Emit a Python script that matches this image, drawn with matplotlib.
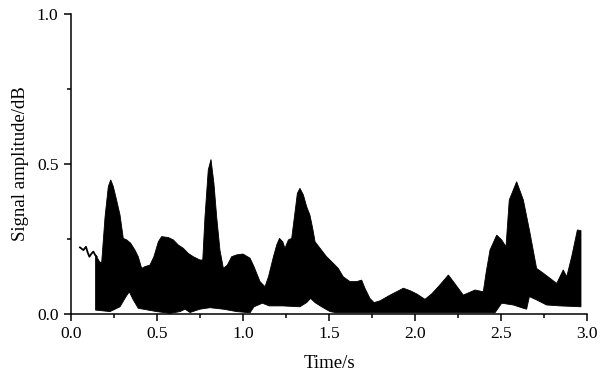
import numpy as np
import matplotlib
matplotlib.use('Agg')
import matplotlib.pyplot as plt

# --- 数据 ---
# 起始段细线
t_line = [0.052, 0.072, 0.087, 0.097, 0.107, 0.12, 0.13, 0.14, 0.149]
y_line = [0.222, 0.213, 0.224, 0.205, 0.191, 0.202, 0.208, 0.197, 0.191]

# 上包络
t_upper = [0.143, 0.165, 0.178, 0.198, 0.217, 0.231, 0.246, 0.265, 0.285, 0.304,
           0.324, 0.347, 0.372, 0.391, 0.411, 0.43, 0.459, 0.482, 0.508, 0.527,
           0.566, 0.595, 0.624, 0.653, 0.682, 0.711, 0.75, 0.766, 0.779, 0.798,
           0.814, 0.831, 0.847, 0.866, 0.886, 0.909, 0.934, 0.963, 1.00, 1.041,
           1.064, 1.099, 1.128, 1.148, 1.177, 1.196, 1.212, 1.231, 1.244, 1.264,
           1.283, 1.299, 1.316, 1.331, 1.351, 1.37, 1.389, 1.405, 1.419, 1.448,
           1.486, 1.525, 1.554, 1.583, 1.622, 1.661, 1.69, 1.709, 1.738, 1.762,
           1.797, 1.855, 1.913, 1.932, 1.971, 2.01, 2.058, 2.097, 2.145, 2.194,
           2.223, 2.281, 2.349, 2.397, 2.413, 2.436, 2.475, 2.504, 2.529, 2.548,
           2.591, 2.63, 2.669, 2.707, 2.746, 2.785, 2.824, 2.862, 2.882, 2.911,
           2.944, 2.965]
y_upper = [0.197, 0.175, 0.169, 0.324, 0.425, 0.447, 0.425, 0.380, 0.330, 0.252,
           0.247, 0.236, 0.213, 0.191, 0.152, 0.158, 0.163, 0.191, 0.241, 0.258,
           0.255, 0.247, 0.230, 0.219, 0.202, 0.191, 0.180, 0.180, 0.324, 0.480,
           0.515, 0.436, 0.324, 0.213, 0.152, 0.163, 0.191, 0.197, 0.200, 0.186,
           0.158, 0.108, 0.091, 0.124, 0.191, 0.230, 0.252, 0.241, 0.219, 0.247,
           0.252, 0.324, 0.402, 0.419, 0.397, 0.358, 0.330, 0.286, 0.241, 0.219,
           0.191, 0.169, 0.152, 0.124, 0.108, 0.108, 0.113, 0.086, 0.052, 0.038,
           0.044, 0.063, 0.080, 0.086, 0.078, 0.067, 0.049, 0.067, 0.097, 0.130,
           0.108, 0.063, 0.080, 0.074, 0.136, 0.213, 0.263, 0.247, 0.224, 0.380,
           0.441, 0.380, 0.269, 0.152, 0.136, 0.119, 0.102, 0.147, 0.124, 0.191,
           0.280, 0.278]

# 下包络
t_lower = [0.143, 0.227, 0.285, 0.32, 0.339, 0.362, 0.391, 0.498, 0.576, 0.634,
           0.663, 0.692, 0.75, 0.808, 0.886, 0.963, 1.041, 1.064, 1.113, 1.152,
           1.23, 1.331, 1.37, 1.393, 1.419, 1.457, 1.506, 1.545, 1.758, 2.2,
           2.465, 2.504, 2.572, 2.63, 2.649, 2.665, 2.707, 2.765, 2.843, 2.965]
y_lower = [0.013, 0.008, 0.024, 0.058, 0.074, 0.047, 0.019, 0.008, 0.002, 0.008,
           0.016, 0.005, 0.016, 0.021, 0.016, 0.008, 0.004, 0.024, 0.036, 0.027,
           0.027, 0.024, 0.038, 0.052, 0.038, 0.024, 0.008, 0.004, 0.004, 0.004,
           0.004, 0.036, 0.030, 0.019, 0.016, 0.058, 0.047, 0.030, 0.027, 0.024]

X_TICKS = [0.0, 0.5, 1.0, 1.5, 2.0, 2.5, 3.0]
Y_TICKS = [0.0, 0.5, 1.0]

plt.rcParams['font.family'] = ['Liberation Serif', 'DejaVu Serif']

fig = plt.figure(figsize=(6.03, 3.83), dpi=100)
ax = fig.add_axes([71 / 603, 69 / 383, 516 / 603, 300 / 383])

# 填充区域：上包络正向 + 下包络反向
poly_t = np.concatenate([t_upper, t_lower[::-1]])
poly_y = np.concatenate([y_upper, y_lower[::-1]])
ax.fill(poly_t, poly_y, color='black', linewidth=0.6, edgecolor='black')
ax.plot(t_line, y_line, color='black', linewidth=1.3)

ax.set_xlim(0, 3.0)
ax.set_ylim(0, 1.0)
ax.set_xticks(X_TICKS)
ax.set_xticklabels([f'{v:.1f}' for v in X_TICKS])
ax.set_yticks(Y_TICKS)
ax.set_yticklabels([f'{v:.1f}' for v in Y_TICKS])
ax.set_xticks([0.25, 0.75, 1.25, 1.75, 2.25, 2.75], minor=True)
ax.set_yticks([0.25, 0.75], minor=True)

for side in ['top', 'right']:
    ax.spines[side].set_visible(False)
for side in ['left', 'bottom']:
    ax.spines[side].set_linewidth(1.1)

ax.tick_params(which='major', direction='out', length=5, width=1.1, labelsize=12.5, pad=4)
ax.tick_params(which='minor', direction='out', length=3, width=1.1)

ax.set_xlabel('Time/s', fontsize=13.5, labelpad=9)
ax.set_ylabel('Signal amplitude/dB', fontsize=13.5, labelpad=6)

fig.savefig('out.png', dpi=100)
